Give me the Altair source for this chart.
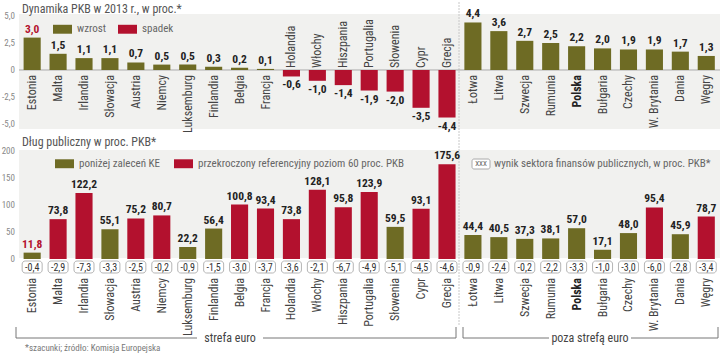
import altair as alt
import pandas as pd

# ---------------- data ----------------
countries = ["Estonia", "Malta", "Irlandia", "Słowacja", "Austria", "Niemcy", "Luksemburg",
             "Finlandia", "Belgia", "Francja", "Holandia", "Włochy", "Hiszpania", "Portugalia",
             "Słowenia", "Cypr", "Grecja",
             "Łotwa", "Litwa", "Szwecja", "Rumunia", "Polska", "Bułgaria", "Czechy",
             "W. Brytania", "Dania", "Węgry"]
gdp = [3.0, 1.5, 1.1, 1.1, 0.7, 0.5, 0.5, 0.3, 0.2, 0.1, -0.6, -1.0, -1.4, -1.9, -2.0, -3.5, -4.4,
       4.4, 3.6, 2.7, 2.5, 2.2, 2.0, 1.9, 1.9, 1.7, 1.3]
debt = [11.8, 73.8, 122.2, 55.1, 75.2, 80.7, 22.2, 56.4, 100.8, 93.4, 73.8, 128.1, 95.8, 123.9,
        59.5, 93.1, 175.6,
        44.4, 40.5, 37.3, 38.1, 57.0, 17.1, 48.0, 95.4, 45.9, 78.7]
deficit = [-0.4, -2.9, -7.3, -3.3, -2.5, -0.2, -0.9, -1.5, -3.0, -3.7, -3.6, -2.1, -6.7, -4.9,
           -5.1, -4.5, -4.6,
           -0.9, -2.4, -0.2, -2.2, -3.3, -1.0, -3.0, -6.0, -2.8, -3.4]
highlight = ["Estonia"]
bold_country = ["Polska"]

top_ticks = [5.0, 2.5, 0.0, -2.5, -5.0]
top_tick_labels = ["5,0", "2,5", "0", "-2,5", "-5,0"]
bottom_ticks = [200, 150, 100, 50, 0]
bottom_tick_labels = ["200", "150", "100", "50", "0"]

gdp_cats = ["wzrost", "spadek"]
debt_cats = ["poniżej zaleceń KE", "przekroczony referencyjny poziom 60 proc. PKB"]
debt_limit = 60


def pl(v):
    return f"{v:.1f}".replace(".", ",")


df = pd.DataFrame({"country": countries, "gdp": gdp, "debt": debt, "deficit": deficit})
df["zero"] = 0.0
df["gdp_lbl"] = [pl(v) for v in gdp]
df["debt_lbl"] = [pl(v) for v in debt]
df["def_lbl"] = [pl(v) for v in deficit]
df["gdp_cat"] = [gdp_cats[0] if v >= 0 else gdp_cats[1] for v in gdp]
df["debt_cat"] = [debt_cats[0] if v <= debt_limit else debt_cats[1] for v in debt]
df["hl"] = [c in highlight for c in countries]
df["bold"] = [c in bold_country for c in countries]

# ---------------- styles ----------------
FONT = "'Liberation Sans Narrow', 'Roboto Condensed', 'DejaVu Sans Condensed', 'Liberation Sans', sans-serif"
OLIVE = "#6e6b24"
RED = "#b3112e"
DARK = "#222222"
GRAY_TXT = "#555555"
BG = "#f1f1ef"
SWATCH = "M-1,-0.47H1V0.47H-1Z"

xs = alt.Scale(domain=countries, paddingInner=0.34, paddingOuter=0.555, align=0.82)
yt = alt.Scale(domain=[-26.204, 6.481], nice=False, zero=False)
yb = alt.Scale(domain=[-174.07, 479.63], nice=False, zero=False)

X = alt.X("country:N", scale=xs, axis=None, sort=None)
base = alt.Chart(df)
label_color = alt.condition(alt.datum.hl, alt.value(RED), alt.value(DARK))


def vtext(x, y, s, size=11, color=GRAY_TXT, align="left", baseline="alphabetic", weight="normal"):
    return alt.Chart(pd.DataFrame({"t": [s]})).mark_text(
        align=align, baseline=baseline, fontSize=size, color=color, font=FONT, fontWeight=weight
    ).encode(x=alt.value(x), y=alt.value(y), text="t:N")


def vrule(x1, y1, x2, y2, color="#777777", dash=None):
    kw = {"color": color, "strokeWidth": 1}
    if dash:
        kw["strokeDash"] = dash
    return alt.Chart(pd.DataFrame({"a": [0]})).mark_rule(**kw).encode(
        x=alt.value(x1), y=alt.value(y1), x2=alt.value(x2), y2=alt.value(y2))


def vrect(x1, y1, x2, y2, fill, stroke=None, radius=0):
    kw = {"fill": fill, "cornerRadius": radius}
    if stroke:
        kw["stroke"] = stroke
        kw["strokeWidth"] = 1
    return alt.Chart(pd.DataFrame({"a": [0]})).mark_rect(**kw).encode(
        x=alt.value(x1), y=alt.value(y1), x2=alt.value(x2), y2=alt.value(y2))


def legend(x, y, pad):
    return alt.Legend(orient="none", legendX=x, legendY=y, direction="horizontal", title=None,
                      symbolType=SWATCH, symbolSize=361, symbolStrokeWidth=0, labelFont=FONT,
                      labelFontSize=11, labelColor="#666", labelOffset=5, labelLimit=0,
                      columnPadding=pad, padding=0)


# ---------------- decorations ----------------
decor = [
    vrect(19, 14, 720, 129, BG),
    vrect(19, 150, 720, 258, BG),
    vrule(459, 2, 459, 326, color="#c8c8c8", dash=[2, 1]),
    vtext(22, 12.5, "Dynamika PKB w 2013 r., w proc.*", size=12),
    vtext(22, 145.5, "Dług publiczny w proc. PKB*", size=12),
    vrect(472, 159, 490, 169, "white", stroke="#aaaaaa", radius=2),
    vtext(481, 164, "XXX", size=7, color="#555", align="center", baseline="middle"),
    vtext(494, 164, "wynik sektora finansów publicznych, w proc. PKB*", size=11,
          color="#666", baseline="middle"),
    # brackets
    vrule(16, 327, 16, 338), vrule(16, 338, 197, 338), vrule(263, 338, 456, 338),
    vrule(456, 327, 456, 338),
    vrule(463, 327, 463, 338), vrule(463, 338, 549, 338), vrule(631, 338, 718, 338),
    vrule(718, 327, 718, 338),
    vtext(230, 338, "strefa euro", size=12, color="#444", align="center", baseline="middle"),
    vtext(590, 338, "poza strefą euro", size=12, color="#444", align="center", baseline="middle"),
    vtext(25, 350.5, "*szacunki; źródło: Komisja Europejska", size=9, color="#777"),
]

# ---------------- top panel ----------------
top_ticks_df = pd.DataFrame({"v": top_ticks, "t": top_tick_labels})
top = alt.layer(
    alt.Chart(top_ticks_df).mark_text(align="right", baseline="middle", fontSize=9,
                                      color="#888", font=FONT).encode(
        x=alt.value(15), y=alt.Y("v:Q", scale=yt, axis=None), text="t:N"),
    alt.Chart(pd.DataFrame({"v": [0.0]})).mark_rule(color="#aaaaaa").encode(
        x=alt.value(19), x2=alt.value(720), y=alt.Y("v:Q", scale=yt, axis=None)),
    base.mark_bar().encode(
        x=X, y=alt.Y("gdp:Q", scale=yt, axis=None, stack=None),
        color=alt.Color("gdp_cat:N", scale=alt.Scale(domain=gdp_cats, range=[OLIVE, RED]),
                        legend=legend(53, 19.5, 11))),
    base.transform_filter("datum.gdp >= 0").mark_text(
        baseline="bottom", dy=-3, fontSize=11.5, fontWeight="bold", font=FONT).encode(
        x=X, y=alt.Y("gdp:Q", scale=yt, axis=None), text="gdp_lbl:N", color=label_color),
    base.transform_filter("datum.gdp < 0").mark_text(
        baseline="top", dy=3, fontSize=11.5, fontWeight="bold", font=FONT).encode(
        x=X, y=alt.Y("gdp:Q", scale=yt, axis=None), text="gdp_lbl:N", color=label_color),
    base.transform_filter("datum.gdp >= 0 && !datum.bold").mark_text(
        angle=270, align="right", baseline="middle", dx=-5, fontSize=12, color="#444",
        font=FONT).encode(x=X, y=alt.Y("zero:Q", scale=yt, axis=None), text="country:N"),
    base.transform_filter("datum.gdp >= 0 && datum.bold").mark_text(
        angle=270, align="right", baseline="middle", dx=-5, fontSize=12, color="#222",
        fontWeight="bold", font=FONT).encode(
        x=X, y=alt.Y("zero:Q", scale=yt, axis=None), text="country:N"),
    base.transform_filter("datum.gdp < 0").mark_text(
        angle=270, align="left", baseline="middle", dx=2, fontSize=12, color="#444",
        font=FONT).encode(x=X, y=alt.Y("zero:Q", scale=yt, axis=None), text="country:N"),
)

# ---------------- bottom panel ----------------
bottom_ticks_df = pd.DataFrame({"v": bottom_ticks, "t": bottom_tick_labels})
bottom = alt.layer(
    alt.Chart(bottom_ticks_df).mark_text(align="right", baseline="middle", fontSize=9,
                                         color="#888", font=FONT).encode(
        x=alt.value(15), y=alt.Y("v:Q", scale=yb, axis=None), text="t:N"),
    base.mark_bar().encode(
        x=X, y=alt.Y("debt:Q", scale=yb, axis=None, stack=None),
        color=alt.Color("debt_cat:N", scale=alt.Scale(domain=debt_cats, range=[OLIVE, RED]),
                        legend=legend(55, 154, 13))),
    base.mark_text(baseline="bottom", dy=-3, fontSize=11.5, fontWeight="bold", font=FONT).encode(
        x=X, y=alt.Y("debt:Q", scale=yb, axis=None), text="debt_lbl:N", color=label_color),
    base.mark_bar(width=20, cornerRadius=3, fill="white", stroke="#b5b5b5", strokeWidth=1).encode(
        x=X, y=alt.value(261), y2=alt.value(273)),
    base.mark_text(baseline="middle", fontSize=10, color="#333", font=FONT).encode(
        x=X, y=alt.value(267.5), text="def_lbl:N"),
    base.transform_filter("!datum.bold").mark_text(
        angle=270, align="right", baseline="middle", fontSize=12, color="#444", font=FONT).encode(
        x=X, y=alt.value(278), text="country:N"),
    base.transform_filter("datum.bold").mark_text(
        angle=270, align="right", baseline="middle", fontSize=12, color="#222",
        fontWeight="bold", font=FONT).encode(
        x=X, y=alt.value(278), text="country:N"),
)

chart = alt.layer(*decor, top, bottom).resolve_scale(
    y="independent", color="independent"
).properties(
    width=720, height=353, autosize=alt.AutoSizeParams(type="none"), padding=0,
    background="white"
).configure_view(stroke=None)

chart.save("out.html", embed_options={"renderer": "svg", "actions": False})
